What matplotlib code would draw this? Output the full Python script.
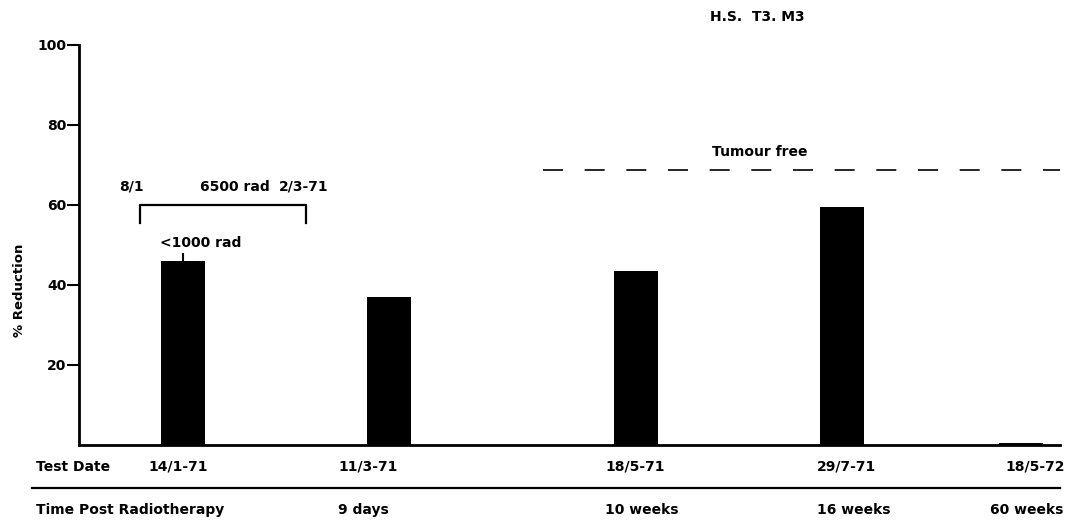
import matplotlib.pyplot as plt

# data
test_dates = ["14/1-71", "11/3-71", "18/5-71", "29/7-71", "18/5-72"]
time_post = ["", "9 days", "10 weeks", "16 weeks", "60 weeks"]
reduction = [46, 37, 43.5, 59.5, 0.6]
tumour_free = 68.8
bracket_level = 60
bracket_drop = 55.5

# layout (x in axis units, axis = 0..981)
bar_x = [103.5, 309.5, 557, 763, 942]
label_left = [69, 259, 526, 738, 926]   # left edges of the table labels
bar_w = 44
fs = 10

plt.rcParams['font.family'] = ['DejaVu Sans']
plt.rcParams['font.weight'] = 'bold'

fig = plt.figure(figsize=(10.68, 5.21), dpi=100)
ax = fig.add_axes([79 / 1068, 76 / 521, 981 / 1068, 400 / 521])

ax.bar(bar_x, reduction, width=bar_w, color='black')

ax.set_xlim(0, 981)
ax.set_ylim(0, 100)
for s in ['top', 'right']:
    ax.spines[s].set_visible(False)
ax.spines['left'].set_linewidth(2)
ax.spines['bottom'].set_linewidth(2)
ax.set_xticks([])
ax.set_yticks([20, 40, 60, 80, 100])
ax.set_yticklabels(['20', '40', '60', '80', '100'])
ax.tick_params(axis='y', length=9, width=1.5, pad=0, labelsize=10)
for lab in ax.get_yticklabels():
    lab.set_fontweight('bold')

fig.text(20 / 1068, 1 - 290 / 521, '% Reduction', fontsize=9.5, fontweight='bold',
         rotation=90, ha='center', va='center')

# tumour free dashed level
ax.plot([464, 981], [tumour_free, tumour_free], color='black', lw=1.2,
        linestyle=(0, (12, 13)), clip_on=False)
ax.text(633, tumour_free + 3.5, 'Tumour free', fontsize=fs, fontweight='bold')

# radiotherapy bracket
bx0, bx1 = 61, 227
ax.plot([bx0, bx0, bx1, bx1], [bracket_drop, bracket_level, bracket_level, bracket_drop],
        color='black', lw=1.6, clip_on=False)
ax.text(bx0 - 21, bracket_level + 4.5, '8/1', fontsize=fs, fontweight='bold', va='center')
ax.text(121, bracket_level + 4.5, '6500 rad', fontsize=fs, fontweight='bold', va='center')
ax.text(200, bracket_level + 4.5, '2/3-71', fontsize=fs, fontweight='bold', va='center')
ax.text(81, 50.5, '<1000 rad', fontsize=fs, fontweight='bold', va='center')
ax.plot([bar_x[0], bar_x[0]], [reduction[0], reduction[0] + 1.8], color='black', lw=1.5)

# title
fig.text(710 / 1068, 1 - 17 / 521, 'H.S.  T3. M3', fontsize=fs, fontweight='bold', va='center')

# table rows below the axis
row1_y = 1 - 467 / 521
row2_y = 1 - 510 / 521
fig.text(36 / 1068, row1_y, 'Test Date', fontsize=fs, fontweight='bold', va='center')
fig.text(36 / 1068, row2_y, 'Time Post Radiotherapy', fontsize=fs, fontweight='bold', va='center')
for x, d in zip(label_left, test_dates):
    fig.text((x + 79) / 1068, row1_y, d, fontsize=fs, fontweight='bold', va='center')
for x, t in zip(label_left[:-1], time_post[:-1]):
    if t:
        fig.text((x + 79) / 1068, row2_y, t, fontsize=fs, fontweight='bold', va='center')
# last column sits against the right edge
fig.text(1063 / 1068, row2_y, time_post[-1], fontsize=fs, fontweight='bold',
         va='center', ha='right')
fig.add_artist(plt.Line2D([32 / 1068, 1060 / 1068], [1 - 488 / 521, 1 - 488 / 521],
                          color='black', lw=1.6))

fig.savefig('out.png', dpi=100)
